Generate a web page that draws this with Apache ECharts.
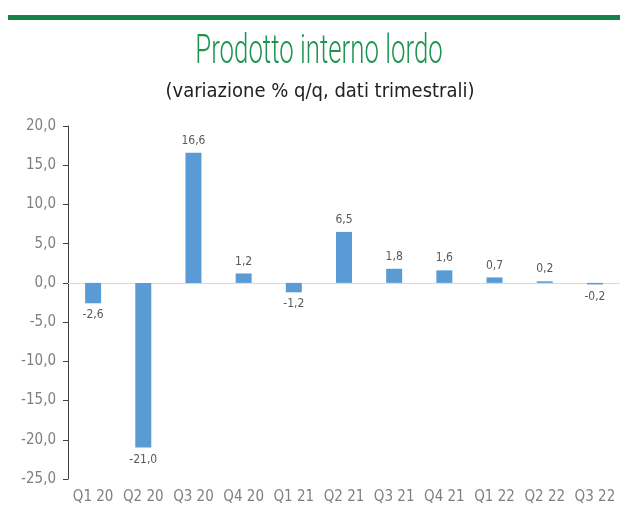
<!DOCTYPE html>
<html>
<head>
<meta charset="utf-8">
<script src="https://cdn.jsdelivr.net/npm/echarts@6/dist/echarts.min.js"></script>
<style>
  html, body { margin: 0; padding: 0; background: #fff; }
  #main { width: 620px; height: 507px; }
</style>
</head>
<body>
<div id="main"></div>
<script>
const categories = ['Q1 20', 'Q2 20', 'Q3 20', 'Q4 20', 'Q1 21', 'Q2 21', 'Q3 21', 'Q4 21', 'Q1 22', 'Q2 22', 'Q3 22'];
const gdpChange = [-2.6, -21.0, 16.6, 1.2, -1.2, 6.5, 1.8, 1.6, 0.7, 0.2, -0.2];
const yTicks = [-25, -20, -15, -10, -5, 0, 5, 10, 15, 20];

const fmt = v => v.toFixed(1).replace('.', ',');

const chart = echarts.init(document.getElementById('main'));

chart.setOption({
  animation: false,
  grid: {
    left: 68,
    right: -3,
    top: 126,
    bottom: 28
  },
  xAxis: {
    type: 'category',
    data: categories,
    axisLine: { onZero: true, lineStyle: { color: '#d9d9d9', width: 1 } },
    axisTick: { show: false },
    axisLabel: { show: false }
  },
  yAxis: {
    type: 'value',
    min: yTicks[0],
    max: yTicks[yTicks.length - 1],
    interval: 5,
    splitLine: { show: false },
    axisLine: { show: true, lineStyle: { color: '#404040' } },
    axisTick: { show: true, length: 5, lineStyle: { color: '#404040' } },
    axisLabel: {
      color: '#7f7f7f',
      fontSize: 15,
      fontFamily: 'DejaVu Sans Condensed',
      margin: 12,
      formatter: v => fmt(v)
    }
  },
  series: [
    {
      type: 'bar',
      data: gdpChange,
      barWidth: 16,
      itemStyle: { color: '#5b9bd5' },
      label: {
        show: true,
        position: 'outside',
        color: '#595959',
        fontSize: 12,
        fontFamily: 'DejaVu Sans Condensed',
        distance: 6,
        formatter: p => fmt(p.value)
      }
    }
  ]
});

// header band, titles, and category labels along the bottom of the plot
const header = [
  {
    type: 'rect',
    shape: { x: 8, y: 15, width: 612, height: 5 },
    style: { fill: '#17834a' }
  },
  {
    type: 'text',
    x: 319,
    y: 53,
    scaleX: 0.645,
    style: {
      text: 'Prodotto interno lordo',
      align: 'center',
      verticalAlign: 'middle',
      fill: '#1d9550',
      font: '300 40px Roboto'
    }
  },
  {
    type: 'text',
    x: 320,
    y: 92,
    style: {
      text: '(variazione % q/q, dati trimestrali)',
      align: 'center',
      verticalAlign: 'middle',
      fill: '#222',
      font: '20px "DejaVu Sans Condensed"'
    }
  }
];

const catLabels = categories.map(c => ({
  type: 'text',
  x: chart.convertToPixel({ xAxisIndex: 0 }, c),
  y: 497,
  style: {
    text: c,
    align: 'center',
    verticalAlign: 'middle',
    fill: '#7f7f7f',
    font: '15px "DejaVu Sans Condensed"'
  }
}));

chart.setOption({ graphic: header.concat(catLabels) });
</script>
</body>
</html>
